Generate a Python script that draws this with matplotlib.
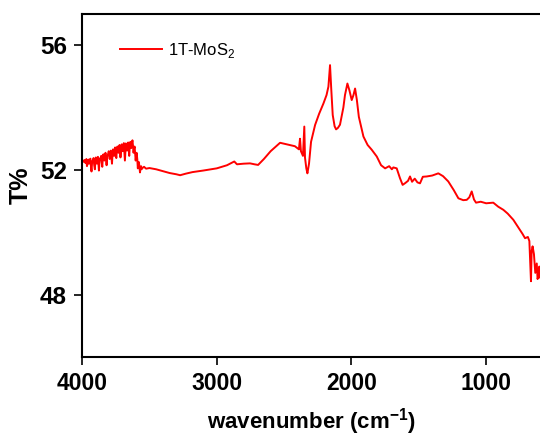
import matplotlib
matplotlib.use("Agg")
import matplotlib.pyplot as plt

plt.rcParams['font.family'] = ['Liberation Sans', 'DejaVu Sans']
plt.rcParams['mathtext.fontset'] = 'custom'
plt.rcParams['mathtext.rm'] = 'Liberation Sans'
plt.rcParams['mathtext.bf'] = 'Liberation Sans:bold'

# FTIR spectrum of 1T-MoS2: wavenumber (cm^-1) and transmittance (%)
wavenumber = [
    3995, 3990, 3985, 3980, 3975, 3971, 3968, 3964, 3960, 3956, 3952, 3948,
    3945, 3941, 3938, 3934, 3930, 3926, 3922, 3918, 3915, 3910, 3905, 3901,
    3898, 3894, 3890, 3886, 3882, 3878, 3875, 3870, 3866, 3862, 3858, 3854,
    3850, 3846, 3842, 3838, 3835, 3830, 3826, 3822, 3818, 3814, 3810, 3806,
    3802, 3798, 3795, 3790, 3786, 3782, 3778, 3774, 3770, 3766, 3762, 3758,
    3755, 3750, 3746, 3742, 3738, 3734, 3730, 3726, 3722, 3718, 3715, 3710,
    3706, 3702, 3698, 3694, 3690, 3686, 3682, 3678, 3675, 3670, 3666, 3662,
    3658, 3654, 3650, 3646, 3642, 3638, 3635, 3630, 3626, 3622, 3618, 3614,
    3610, 3606, 3602, 3598, 3595, 3590, 3586, 3582, 3578, 3574, 3570, 3566,
    3562, 3558, 3555, 3540, 3525,
    3500, 3450, 3400, 3350, 3300, 3272, 3230, 3180, 3100, 3000, 2924, 2870,
    2850, 2800, 2753, 2720, 2693, 2650, 2600, 2530, 2480, 2420, 2390, 2382,
    2375, 2360, 2350, 2345, 2335, 2327, 2315, 2300, 2270, 2240, 2208, 2185,
    2171, 2159, 2150, 2139, 2125, 2114, 2100, 2085, 2060, 2048, 2030, 2015,
    1998, 1985, 1973, 1960, 1945, 1911, 1880, 1850, 1812, 1780, 1750, 1720,
    1700, 1689, 1664, 1640, 1620, 1600, 1580, 1565, 1550, 1530, 1510, 1491,
    1470, 1441, 1400, 1355, 1320, 1281, 1240, 1206, 1170, 1144, 1125, 1107,
    1090, 1075, 1040, 1000, 947, 910, 872, 840, 798, 760, 730, 711,
    690, 679, 667, 662, 655, 645, 635, 624, 618, 612, 605, 600,
]
transmittance = [
    52.30, 52.26, 52.28, 52.32, 52.22, 52.30, 52.35, 52.12, 52.18, 52.28, 52.33, 52.20,
    52.25, 52.34, 52.36, 52.10, 51.95, 52.22, 52.30, 52.26, 52.38, 52.15, 52.02, 52.31,
    52.40, 52.28, 52.20, 52.36, 52.42, 52.16, 51.98, 52.30, 52.38, 52.32, 52.45, 52.24,
    52.10, 52.40, 52.50, 52.36, 52.30, 52.48, 52.55, 52.34, 52.15, 52.42, 52.48, 52.52,
    52.60, 52.44, 52.35, 52.58, 52.62, 52.40, 52.20, 52.50, 52.66, 52.58, 52.45, 52.64,
    52.72, 52.55, 52.38, 52.62, 52.75, 52.68, 52.55, 52.70, 52.80, 52.62, 52.40, 52.66,
    52.82, 52.74, 52.60, 52.78, 52.86, 52.55, 52.30, 52.64, 52.85, 52.76, 52.62, 52.80,
    52.88, 52.70, 52.45, 52.74, 52.90, 52.82, 52.70, 52.86, 52.95, 52.78, 52.55, 52.68,
    52.75, 52.52, 52.30, 52.48, 52.55, 52.34, 52.05, 52.20, 52.25, 52.08, 51.92, 52.06,
    52.12, 52.02, 52.05, 52.10, 52.04,
    52.06, 52.02, 51.96, 51.90, 51.86, 51.83, 51.88, 51.93, 51.98, 52.05, 52.15, 52.27,
    52.18, 52.20, 52.21, 52.18, 52.16, 52.35, 52.60, 52.87, 52.82, 52.76, 52.66, 53.00,
    52.60, 52.45, 53.39, 52.40, 52.05, 51.89, 52.20, 52.90, 53.44, 53.80, 54.13, 54.40,
    54.67, 55.36, 54.60, 53.76, 53.40, 53.30, 53.35, 53.45, 54.00, 54.40, 54.77, 54.55,
    54.24, 54.40, 54.61, 54.25, 53.70, 53.07, 52.80, 52.65, 52.43, 52.15, 52.05, 52.12,
    52.02, 52.08, 52.05, 51.74, 51.52, 51.58, 51.65, 51.79, 51.62, 51.72, 51.60, 51.57,
    51.78, 51.79, 51.82, 51.89, 51.80, 51.63, 51.35, 51.09, 51.03, 51.04, 51.12, 51.31,
    51.05, 50.95, 50.98, 50.93, 50.95, 50.82, 50.72, 50.60, 50.40, 50.15, 49.95, 49.81,
    49.85, 49.72, 48.43, 49.40, 49.55, 49.30, 48.70, 49.00, 48.50, 48.60, 48.90, 48.55,
]

x_ticks = [4000, 3000, 2000, 1000]
y_ticks = [48, 52, 56]

fig = plt.figure(figsize=(5.40, 4.37), dpi=100)
ax = fig.add_axes([0.152, 0.183, 0.848, 0.785])

ax.plot(wavenumber, transmittance, color='#ff0000', lw=1.4, label='1T-MoS$_2$')

ax.set_xlim(4000, 600)
ax.set_ylim(46, 57)
ax.set_xticks(x_ticks)
ax.set_yticks(y_ticks)
ax.tick_params(direction='out', length=6, width=1.2, pad=5)
for lab in ax.get_xticklabels():
    lab.set_fontsize(16.5)
    lab.set_fontweight('bold')
for lab in ax.get_yticklabels():
    lab.set_fontsize(17.5)
    lab.set_fontweight('bold')

for side in ('left', 'bottom', 'top'):
    ax.spines[side].set_linewidth(1.5)
ax.spines['right'].set_visible(False)

ax.set_xlabel('wavenumber (cm$^{\\mathbf{-1}}$)', fontsize=16, fontweight='bold', labelpad=8)
ax.set_ylabel('T%', fontsize=18, fontweight='bold', labelpad=5)

ax.legend(loc='upper left', bbox_to_anchor=(0.05, 0.965), frameon=False,
          fontsize=12, handlelength=2.5, handletextpad=0.4)

fig.savefig('out.png', dpi=100)
